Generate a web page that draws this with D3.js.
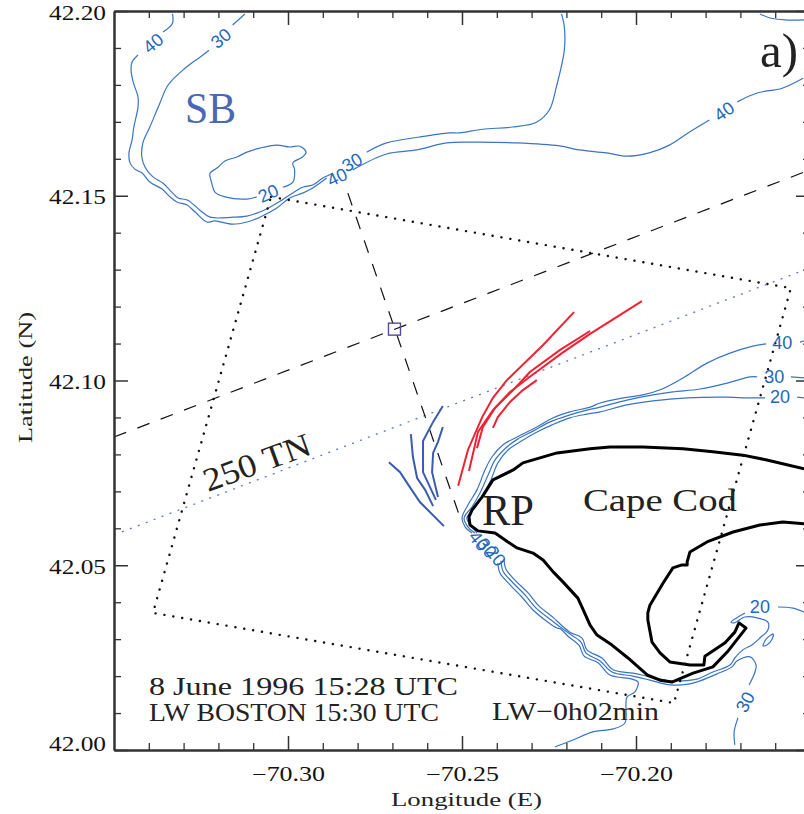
<!DOCTYPE html>
<html>
<head>
<meta charset="utf-8">
<script src="https://cdnjs.cloudflare.com/ajax/libs/d3/7.8.5/d3.min.js"></script>
<style>
  html, body { margin: 0; padding: 0; background: #fff; overflow: hidden; }
  svg { display: block; }
</style>
</head>
<body>
<div id="chart"></div>
<script>
// tick values
const lonMajor = [-70.35, -70.30, -70.25, -70.20, -70.15];
const latMajor = [42.00, 42.05, 42.10, 42.15, 42.20];
const lonMinor = [-70.34, -70.33, -70.32, -70.31, -70.29, -70.28, -70.27, -70.26, -70.24, -70.23, -70.22, -70.21, -70.19, -70.18, -70.17, -70.16];
const latMinor = [42.01, 42.02, 42.03, 42.04, 42.06, 42.07, 42.08, 42.09, 42.11, 42.12, 42.13, 42.14, 42.16, 42.17, 42.18, 42.19];

// isobaths, [lon, lat], null = gap for a contour label
const depth40North = [[-70.3332,42.1992],[-70.3332,42.1967],[-70.3359,42.1943],null,
  [-70.3431,42.1881],[-70.3448,42.1862],[-70.3451,42.1840],[-70.3445,42.1808],[-70.3431,42.1767],[-70.3431,42.1740],
  [-70.3443,42.1686],[-70.3448,42.1651],[-70.3457,42.1616],[-70.3454,42.1589],[-70.3440,42.1572],[-70.3420,42.1562],
  [-70.3397,42.1537],[-70.3362,42.1518],[-70.3339,42.1497],[-70.3319,42.1483],[-70.3290,42.1475],[-70.3267,42.1456],
  [-70.3233,42.1429],[-70.3210,42.1432],[-70.3161,42.1423],[-70.3118,42.1429],[-70.3081,42.1442],[-70.3032,42.1467],
  [-70.2995,42.1494],[-70.2958,42.1507],[-70.2929,42.1521],[-70.2909,42.1534],[-70.2889,42.1548],null,
  [-70.2814,42.1570],[-70.2717,42.1613],[-70.2630,42.1624],[-70.2544,42.1643],[-70.2470,42.1645],[-70.2343,42.1643],
  [-70.2220,42.1635],[-70.2163,42.1624],[-70.2085,42.1616],[-70.2028,42.1607],[-70.1962,42.1616],[-70.1904,42.1637],
  [-70.1847,42.1672],[-70.1789,42.1705],null,
  [-70.1709,42.1754],[-70.1652,42.1778],[-70.1580,42.1791],[-70.1520,42.1818]];

const depth30North = [[-70.3124,42.1992],[-70.3159,42.1962],null,
  [-70.3227,42.1894],[-70.3253,42.1875],[-70.3296,42.1845],[-70.3345,42.1799],[-70.3368,42.1751],[-70.3397,42.1686],
  [-70.3417,42.1643],[-70.3420,42.1605],[-70.3411,42.1578],[-70.3388,42.1551],[-70.3359,42.1534],[-70.3334,42.1510],
  [-70.3316,42.1494],[-70.3288,42.1488],[-70.3253,42.1461],[-70.3224,42.1442],[-70.3158,42.1442],[-70.3118,42.1445],
  [-70.3081,42.1456],[-70.3052,42.1469],[-70.3018,42.1488],[-70.2995,42.1502],[-70.2958,42.1523],[-70.2929,42.1529],
  [-70.2900,42.1548],[-70.2871,42.1561],null,
  [-70.2774,42.1618],[-70.2717,42.1643],[-70.2622,42.1659],[-70.2536,42.1670],[-70.2507,42.1670],[-70.2441,42.1680],
  [-70.2355,42.1686],[-70.2286,42.1699],[-70.2249,42.1732],[-70.2229,42.1794],[-70.2206,42.1894],[-70.2206,42.1957],
  [-70.2214,42.1992]];

const depth20Bank = [[-70.3015,42.1523],[-70.2986,42.1537],[-70.2981,42.1570],[-70.2986,42.1589],[-70.2958,42.1605],
  [-70.2948,42.1618],[-70.2966,42.1634],[-70.2995,42.1632],[-70.3032,42.1637],[-70.3081,42.1629],[-70.3118,42.1618],
  [-70.3147,42.1605],[-70.3181,42.1594],[-70.3204,42.1575],[-70.3224,42.1561],[-70.3219,42.1534],[-70.3210,42.1510],
  [-70.3181,42.1497],[-70.3118,42.1491],[-70.3090,42.1497]];

const depthNorthEast = [[-70.1644,42.1992],[-70.1615,42.1981],[-70.1572,42.1976],[-70.1517,42.1976]];

const depth40Cape = [[-70.1517,42.1107],[-70.1529,42.1104],null,
  [-70.1626,42.1099],[-70.1664,42.1093],[-70.1730,42.1074],[-70.1796,42.1047],[-70.1865,42.1007],[-70.1925,42.0977],
  [-70.1980,42.0961],[-70.2037,42.0953],[-70.2103,42.0939],[-70.2132,42.0928],[-70.2190,42.0915],[-70.2238,42.0899],
  [-70.2285,42.0874],[-70.2342,42.0847],[-70.2382,42.0826],[-70.2414,42.0793],[-70.2434,42.0758],[-70.2457,42.0704],
  [-70.2483,42.0663],[-70.2500,42.0628],[-70.2491,42.0604],[-70.2471,42.0587],null,
  [-70.2397,42.0506],[-70.2391,42.0479],[-70.2362,42.0447],[-70.2328,42.0414],[-70.2296,42.0379],[-70.2253,42.0346],
  [-70.2227,42.0330],[-70.2218,42.0328],[-70.2193,42.0306],[-70.2164,42.0284],[-70.2149,42.0254],[-70.2109,42.0236],
  [-70.2075,42.0203],[-70.2011,42.0192],[-70.1994,42.0184],[-70.2003,42.0157],[-70.2026,42.0143],[-70.2032,42.0073],
  [-70.2066,42.0057],[-70.2124,42.0049],[-70.2181,42.0027],[-70.2233,42.0008]];

const depth30Cape = [[-70.1517,42.1007],[-70.1555,42.1010],null,
  [-70.1652,42.1010],[-70.1672,42.1010],[-70.1738,42.0993],[-70.1816,42.0977],[-70.1894,42.0969],[-70.1951,42.0961],
  [-70.2026,42.0947],[-70.2103,42.0928],[-70.2141,42.0920],[-70.2190,42.0907],[-70.2247,42.0888],[-70.2296,42.0863],
  [-70.2339,42.0842],[-70.2371,42.0820],[-70.2405,42.0785],[-70.2425,42.0744],[-70.2448,42.0696],[-70.2471,42.0658],
  [-70.2494,42.0628],[-70.2483,42.0604],[-70.2463,42.0587],null,
  [-70.2388,42.0512],[-70.2382,42.0484],[-70.2353,42.0452],[-70.2319,42.0420],[-70.2287,42.0384],[-70.2244,42.0352],
  [-70.2218,42.0333],[-70.2190,42.0314],[-70.2158,42.0292],[-70.2144,42.0263],[-70.2103,42.0241],[-70.2069,42.0211],
  [-70.2009,42.0200],[-70.1960,42.0189],[-70.1902,42.0176],[-70.1845,42.0179],[-70.1816,42.0187],[-70.1767,42.0206],
  [-70.1724,42.0225],[-70.1710,42.0241],[-70.1672,42.0252],[-70.1655,42.0230],[-70.1658,42.0211],[-70.1675,42.0176],null,
  [-70.1707,42.0087],[-70.1718,42.0049],[-70.1716,42.0014]];

const depth20Cape = [[-70.1517,42.0953],[-70.1537,42.0955],null,
  [-70.1629,42.0953],[-70.1681,42.0953],[-70.1738,42.0955],[-70.1853,42.0953],[-70.1951,42.0945],[-70.2026,42.0934],
  [-70.2103,42.0915],[-70.2141,42.0909],[-70.2190,42.0899],[-70.2241,42.0880],[-70.2290,42.0858],[-70.2333,42.0834],
  [-70.2368,42.0812],[-70.2397,42.0777],[-70.2417,42.0731],[-70.2440,42.0690],[-70.2463,42.0655],[-70.2486,42.0628],
  [-70.2471,42.0604],[-70.2457,42.0587],null,
  [-70.2379,42.0517],[-70.2374,42.0490],[-70.2345,42.0457],[-70.2310,42.0425],[-70.2279,42.0390],[-70.2236,42.0357],
  [-70.2218,42.0341],[-70.2190,42.0319],[-70.2155,42.0303],[-70.2141,42.0271],[-70.2098,42.0249],[-70.2066,42.0217],
  [-70.2009,42.0208],[-70.1960,42.0198],[-70.1902,42.0187],[-70.1874,42.0187],[-70.1825,42.0192],[-70.1779,42.0211],
  [-70.1730,42.0230],[-70.1716,42.0249],[-70.1693,42.0271],[-70.1667,42.0284],[-70.1644,42.0303],[-70.1621,42.0325],
  [-70.1621,42.0346],[-70.1649,42.0357],[-70.1687,42.0360],[-70.1718,42.0344],[-70.1727,42.0346],[-70.1707,42.0360],
  [-70.1687,42.0371],null,
  [-70.1592,42.0387],[-70.1549,42.0384],[-70.1517,42.0373]];

const depth20Islet = [[-70.1635,42.0284],[-70.1626,42.0300],[-70.1606,42.0314],[-70.1609,42.0300],[-70.1624,42.0284],[-70.1635,42.0282],[-70.1635,42.0284]];

// Cape Cod coast
const coast = [[-70.1517,42.0761],[-70.1624,42.0785],[-70.1693,42.0798],[-70.1779,42.0807],[-70.1865,42.0815],[-70.1980,42.0820],
  [-70.2075,42.0820],[-70.2132,42.0815],[-70.2227,42.0804],[-70.2325,42.0777],[-70.2353,42.0758],[-70.2411,42.0731],
  [-70.2442,42.0685],[-70.2471,42.0650],[-70.2480,42.0631],[-70.2477,42.0609],[-70.2454,42.0593],[-70.2405,42.0587],
  [-70.2368,42.0563],[-70.2342,42.0547],[-70.2296,42.0533],[-70.2267,42.0514],[-70.2238,42.0482],[-70.2210,42.0455],
  [-70.2167,42.0411],[-70.2149,42.0374],[-70.2132,42.0338],[-70.2112,42.0311],[-70.2069,42.0284],[-70.2023,42.0249],
  [-70.1968,42.0203],[-70.1931,42.0189],[-70.1897,42.0184],[-70.1836,42.0208],[-70.1779,42.0225],[-70.1738,42.0265],
  [-70.1684,42.0330],[-70.1704,42.0344],[-70.1716,42.0319],[-70.1744,42.0290],[-70.1802,42.0254],[-70.1805,42.0230],
  [-70.1845,42.0230],[-70.1902,42.0238],[-70.1931,42.0263],[-70.1954,42.0292],[-70.1966,42.0352],[-70.1966,42.0371],
  [-70.1960,42.0392],[-70.1922,42.0452],[-70.1894,42.0493],[-70.1868,42.0501],[-70.1853,42.0501],[-70.1853,42.0509],
  [-70.1845,42.0536],[-70.1796,42.0563],[-70.1721,42.0590],[-70.1644,42.0609],[-70.1578,42.0617],[-70.1517,42.0612]];

// surface wave crests
const redCrest1 = [[-70.2178,42.1185],[-70.2267,42.1096],[-70.2371,42.1001],[-70.2411,42.0953],[-70.2442,42.0901],[-70.2483,42.0812],[-70.2511,42.0715]];
const redCrest2 = [[-70.1983,42.1215],[-70.2132,42.1126],[-70.2213,42.1074],[-70.2305,42.1010],[-70.2362,42.0969],[-70.2411,42.0920],[-70.2454,42.0861],[-70.2480,42.0755]];
const redCrest3 = [[-70.2132,42.1134],[-70.2218,42.1083],[-70.2305,42.1023],[-70.2353,42.0974],[-70.2405,42.0926],[-70.2440,42.0874],[-70.2457,42.0817]];
const redCrest4 = [[-70.2285,42.1001],[-70.2325,42.0974],[-70.2362,42.0942],[-70.2397,42.0901],[-70.2411,42.0872]];
const blueCrest1 = [[-70.2555,42.0931],[-70.2583,42.0888],[-70.2612,42.0836],[-70.2612,42.0752],[-70.2575,42.0677]];
const blueCrest2 = [[-70.2555,42.0874],[-70.2569,42.0834],[-70.2583,42.0804],[-70.2586,42.0752],[-70.2569,42.0685]];
const blueCrest3 = [[-70.2647,42.0855],[-70.2641,42.0793],[-70.2629,42.0736],[-70.2606,42.0704],[-70.2583,42.0660]];
const blueCrest4 = [[-70.2710,42.0779],[-70.2678,42.0752],[-70.2658,42.0723],[-70.2621,42.0671],[-70.2552,42.0606]];

// ADCP tracks, image box, section line, station
const trackEastWest = [[-70.35,42.0847],[-70.1517,42.1564]];
const trackNorthSouth = [[-70.2828,42.1507],[-70.25,42.0614]];
const imageBox = [[-70.3049,42.1497],[-70.1555,42.1250],[-70.1891,42.0127],[-70.3388,42.0371],[-70.3049,42.1497]];
const sectionLine = [[-70.35,42.0582],[-70.1517,42.1299]];
const station = [[-70.2694,42.1139]];

// contour labels
const contourLabelText = ["40", "30", "20", "40", "30", "40", "40", "30", "20", "20", "30", "40", "30", "20"];
const contourLabelLon = [-70.3388, -70.3193, -70.3057, -70.2859, -70.2816, -70.1747, -70.1580, -70.1603, -70.1586, -70.1644, -70.1687, -70.2451, -70.2428, -70.2402];
const contourLabelLat = [42.1913, 42.1927, 42.1507, 42.1551, 42.1591, 42.1729, 42.1104, 42.1010, 42.0958, 42.0387, 42.0130, 42.0566, 42.0547, 42.0525];
const contourLabelAngle = [-40, -40, -25, -25, -30, -35, 0, 0, 0, 0, -62, 52, 52, 52];

const width = 804, height = 814;
const serif = "'Liberation Serif', serif";

const x = d3.scaleLinear().domain([-70.35, -70.15]).range([114, 810]);
const y = d3.scaleLinear().domain([42.00, 42.20]).range([750, 11]);

const svg = d3.select("#chart").append("svg")
  .attr("width", width)
  .attr("height", height);

const line = d3.line()
  .defined((d) => d)
  .x((d) => x(d[0]))
  .y((d) => y(d[1]));
const smooth = d3.line()
  .defined((d) => d)
  .curve(d3.curveCatmullRom)
  .x((d) => x(d[0]))
  .y((d) => y(d[1]));

// stretched text, the original fonts are much wider than Liberation
function label(str, px, py, size, len, color, angle) {
  const t = svg.append("text")
    .attr("x", px)
    .attr("y", py)
    .attr("font-family", serif)
    .attr("font-size", size)
    .attr("fill", color || "#222")
    .attr("textLength", len)
    .attr("lengthAdjust", "spacingAndGlyphs")
    .text(str);
  if (angle) t.attr("transform", `rotate(${angle},${px},${py})`);
  return t;
}

// isobaths
[depth40North, depth30North, depth20Bank, depthNorthEast, depth40Cape, depth30Cape, depth20Cape, depth20Islet].forEach((d) => {
  svg.append("path").attr("d", smooth(d))
    .attr("fill", "none").attr("stroke", "#3a74c0").attr("stroke-width", 1.2);
});

// coast
svg.append("path").attr("d", line(coast))
  .attr("fill", "none").attr("stroke", "#000").attr("stroke-width", 3).attr("stroke-linejoin", "round");

// image box and section line
svg.append("path").attr("d", line(imageBox))
  .attr("fill", "none").attr("stroke", "#111").attr("stroke-width", 2.4)
  .attr("stroke-linecap", "round").attr("stroke-dasharray", "0.1 8.9");
svg.append("path").attr("d", line(sectionLine))
  .attr("fill", "none").attr("stroke", "#5b78c4").attr("stroke-width", 1.3)
  .attr("stroke-dasharray", "2 6.5");

// tracks
[trackEastWest, trackNorthSouth].forEach((d) => {
  svg.append("path").attr("d", line(d))
    .attr("fill", "none").attr("stroke", "#111").attr("stroke-width", 1.2)
    .attr("stroke-dasharray", "13 12");
});

// crests
[redCrest1, redCrest2, redCrest3, redCrest4].forEach((d) => {
  svg.append("path").attr("d", line(d))
    .attr("fill", "none").attr("stroke", "#ee2233").attr("stroke-width", 2);
});
[blueCrest1, blueCrest2, blueCrest3, blueCrest4].forEach((d) => {
  svg.append("path").attr("d", line(d))
    .attr("fill", "none").attr("stroke", "#3a5cb0").attr("stroke-width", 2);
});

// station
svg.selectAll(".station").data(station).join("rect")
  .attr("class", "station")
  .attr("x", (d) => x(d[0]) - 6)
  .attr("y", (d) => y(d[1]) - 6)
  .attr("width", 12)
  .attr("height", 12)
  .attr("fill", "none")
  .attr("stroke", "#574a94")
  .attr("stroke-width", 1.4);

// contour labels
contourLabelText.forEach((s, i) => {
  const px = x(contourLabelLon[i]), py = y(contourLabelLat[i]);
  svg.append("text")
    .attr("transform", `translate(${px},${py}) rotate(${contourLabelAngle[i]})`)
    .attr("text-anchor", "middle")
    .attr("dy", "0.36em")
    .attr("font-family", "'Liberation Sans', sans-serif")
    .attr("font-size", 18)
    .attr("fill", "#2268b8")
    .text(s);
});

// axes
const fmt = d3.format(".2f");
const axisColor = "#333";

function styleAxis(g, w) {
  g.select(".domain").attr("stroke", axisColor).attr("stroke-width", 2);
  g.selectAll(".tick line").attr("stroke", axisColor).attr("stroke-width", w);
}

const leftMajor = svg.append("g").attr("transform", `translate(${x(-70.35)},0)`)
  .call(d3.axisLeft(y).tickValues(latMajor).tickSize(-14).tickSizeOuter(0).tickPadding(8).tickFormat(fmt));
styleAxis(leftMajor, 1.5);
leftMajor.selectAll("text")
  .attr("font-family", serif).attr("font-size", 20.5).attr("fill", "#111")
  .attr("textLength", 57).attr("lengthAdjust", "spacingAndGlyphs")
  .attr("dy", (d) => (d === 42 ? 0 : 8));

// the -70.15 label falls off the page, so only the tick is drawn
const bottomMajor = svg.append("g").attr("transform", `translate(0,${y(42)})`)
  .call(d3.axisBottom(x).tickValues(lonMajor.slice(1)).tickSize(-14).tickSizeOuter(0).tickPadding(31)
    .tickFormat((d) => (d === -70.15 ? "" : fmt(d))));
styleAxis(bottomMajor, 1.5);
bottomMajor.selectAll("text").filter((d) => d !== -70.15)
  .attr("font-family", serif).attr("font-size", 20.5).attr("fill", "#111")
  .attr("textLength", 73).attr("lengthAdjust", "spacingAndGlyphs")
  .attr("dy", 0);

styleAxis(svg.append("g").attr("transform", `translate(${x(-70.35)},0)`)
  .call(d3.axisLeft(y).tickValues(latMinor).tickSize(-7).tickSizeOuter(0).tickFormat("")), 1.3);
styleAxis(svg.append("g").attr("transform", `translate(0,${y(42)})`)
  .call(d3.axisBottom(x).tickValues(lonMinor).tickSize(-7).tickSizeOuter(0).tickFormat("")), 1.3);

styleAxis(svg.append("g").attr("transform", `translate(0,${y(42.2)})`)
  .call(d3.axisTop(x).tickValues(lonMajor.slice(1)).tickSize(-14).tickSizeOuter(0).tickFormat("")), 1.5);
styleAxis(svg.append("g").attr("transform", `translate(0,${y(42.2)})`)
  .call(d3.axisTop(x).tickValues(lonMinor).tickSize(-7).tickSizeOuter(0).tickFormat("")), 1.3);
styleAxis(svg.append("g").attr("transform", `translate(${x(-70.15)},0)`)
  .call(d3.axisRight(y).tickValues(latMajor).tickSize(-14).tickSizeOuter(0).tickFormat("")), 1.5);
styleAxis(svg.append("g").attr("transform", `translate(${x(-70.15)},0)`)
  .call(d3.axisRight(y).tickValues(latMinor).tickSize(-7).tickSizeOuter(0).tickFormat("")), 1.3);

// axis titles
label("Longitude (E)", 391, 806, 19, 151);
label("Latitude (N)", 32, 443, 19, 131, "#222", -90);

// annotations
label("SB", 185, 123, 45, 51, "#4a68b4");
label("a)", 760, 67, 48, 38);
label("RP", 482, 525, 45, 52);
label("Cape Cod", 583, 511, 32, 154);
label("250 TN", 208, 492, 33, 112, "#222", -20);
label("8 June 1996 15:28 UTC", 149, 695, 26, 309);
label("LW BOSTON 15:30 UTC", 149, 721, 26, 290);
label("LW\u22120h02min", 492, 720, 26, 167);
</script>
</body>
</html>
